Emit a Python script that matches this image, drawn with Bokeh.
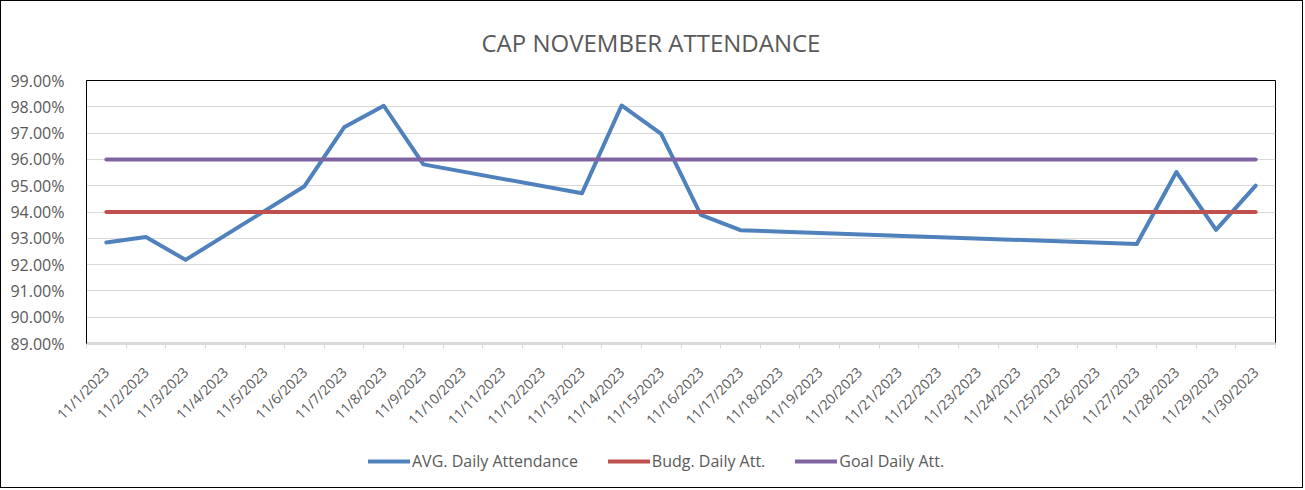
from bokeh.plotting import figure
from bokeh.models import (Range1d, FixedTicker, NumeralTickFormatter,
                          Legend, LegendItem)
from bokeh.layouts import column
from bokeh.embed import file_html
from bokeh.resources import INLINE
import math

# ---- data ----
date_labels = ["11/%d/2023" % d for d in range(1, 31)]
avg_dates = ["11/1/2023", "11/2/2023", "11/3/2023", "11/6/2023", "11/7/2023",
             "11/8/2023", "11/9/2023", "11/13/2023", "11/14/2023", "11/15/2023",
             "11/16/2023", "11/17/2023", "11/27/2023", "11/28/2023", "11/29/2023",
             "11/30/2023"]
avg_values = [0.9284, 0.9305, 0.9218, 0.9498, 0.9722, 0.9804, 0.9581, 0.9471,
              0.9805, 0.9697, 0.9389, 0.9331, 0.9278, 0.9552, 0.9332, 0.9500]
budget_value = 0.94
goal_value = 0.96
budget_values = [budget_value] * len(date_labels)
goal_values = [goal_value] * len(date_labels)
y_ticks = [0.89, 0.90, 0.91, 0.92, 0.93, 0.94, 0.95, 0.96, 0.97, 0.98, 0.99]
series_names = ["AVG. Daily Attendance", "Budg. Daily Att.", "Goal Daily Att."]

BLUE = "#4F81BD"
RED = "#C0504D"
PURPLE = "#8064A2"
TXT = "#595959"
GRID = "#D9D9D9"
FONT = "Open Sans"

pos = {lab: i + 1 for i, lab in enumerate(date_labels)}
avg_x = [pos[d] for d in avg_dates]
all_x = [pos[d] for d in date_labels]

W = 1301
p = figure(width=W, height=440, output_backend="svg", toolbar_location=None,
           x_range=Range1d(0.5, len(date_labels) + 0.5),
           y_range=Range1d(y_ticks[0], y_ticks[-1]),
           min_border_left=85, min_border_right=27, min_border_top=78,
           min_border_bottom=98, title="CAP NOVEMBER ATTENDANCE")
p.outline_line_color = "black"

p.title.align = "left"
p.title.text_font = FONT
p.title.text_font_style = "normal"
p.title.text_font_size = "24px"
p.title.text_color = TXT
p.title.standoff = 44
p.title.offset = 395

# y axis
p.yaxis.ticker = FixedTicker(ticks=y_ticks)
p.yaxis.formatter = NumeralTickFormatter(format="0.00%")
p.yaxis.major_tick_line_color = None
p.yaxis.minor_tick_line_color = None
p.yaxis.axis_line_color = "black"
p.yaxis.major_label_text_font = FONT
p.yaxis.major_label_text_font_size = "16px"
p.yaxis.major_label_text_color = TXT
p.yaxis.major_label_standoff = 16

# x axis
p.xaxis.ticker = FixedTicker(ticks=all_x,
                             minor_ticks=[x - 0.5 for x in all_x] + [all_x[-1] + 0.5])
p.xaxis.major_label_overrides = {x: lab for x, lab in zip(all_x, date_labels)}
p.xaxis.major_label_orientation = math.pi / 4
p.xaxis.major_tick_line_color = None
p.xaxis.minor_tick_line_color = GRID
p.xaxis.minor_tick_in = 0
p.xaxis.minor_tick_out = 5
p.xaxis.axis_line_color = GRID
p.xaxis.axis_line_width = 3
p.xaxis.major_label_text_font = FONT
p.xaxis.major_label_text_font_size = "14px"
p.xaxis.major_label_text_color = TXT
p.xaxis.major_label_standoff = 20

p.xgrid.grid_line_color = None
p.ygrid.grid_line_color = GRID
p.ygrid.grid_line_width = 1

p.line(avg_x, avg_values, line_color=BLUE, line_width=4, line_join="round",
       line_cap="round")
p.line(all_x, budget_values, line_color=RED, line_width=4, line_cap="round")
p.line(all_x, goal_values, line_color=PURPLE, line_width=4, line_cap="round")

# legend strip (separate canvas so the legend is not clipped)
lg = figure(width=W, height=46, output_backend="svg", toolbar_location=None,
            x_range=Range1d(0, 1), y_range=Range1d(0, 1),
            min_border=0, outline_line_color=None)
lg.axis.visible = False
lg.grid.visible = False
items = []
for name, col in zip(series_names, [BLUE, RED, PURPLE]):
    # swatch-only renderer, kept outside the visible range
    r = lg.line([-5, -4], [-5, -5], line_color=col, line_width=4, line_cap="round")
    items.append(LegendItem(label=name, renderers=[r]))
legend = Legend(items=items, orientation="horizontal", location=(282, 15),
                label_text_font=FONT, label_text_font_size="16px",
                label_text_color=TXT, glyph_width=42, label_standoff=2,
                spacing=30, border_line_color=None, background_fill_alpha=0,
                margin=0, padding=2)
lg.add_layout(legend, "center")

layout = column(p, lg, spacing=0)
layout.styles = {"border": "1px solid black"}

open("out.html", "w").write(file_html(layout, INLINE))
